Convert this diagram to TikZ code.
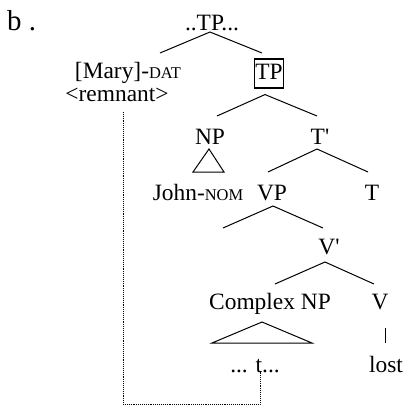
\documentclass[tikz,border=0pt]{standalone}
\usepackage{fontspec}
\setmainfont{Liberation Serif}
\usepackage{tikz}
\usetikzlibrary{calc}
\newcommand{\smc}[1]{{\fontsize{16.5}{18}\selectfont #1}}
\tikzset{
  lbl/.style={anchor=base,inner sep=0pt,font=\fontsize{23.5}{26}\selectfont},
  boxed/.style={lbl,draw,line width=1.1bp,text height=15bp,text depth=4bp,inner xsep=1bp,inner ysep=5bp},
  branch/.style={line width=1bp},
  trace/.style={densely dotted,line width=0.9bp}
}
\begin{document}
\begin{tikzpicture}[x=1bp,y=1bp]
\useasboundingbox (0,0) rectangle (406,-407);
\node[lbl,anchor=base west,font=\fontsize{29}{32}\selectfont] (ex) at (7,-30) {b .};
\node[lbl] (top) at (212,-30) {..TP...};
\node[lbl] (mary) at (128,-78) {[Mary]-\smc{DAT}};
\node[lbl] (remnant) at (117,-101) {<remnant>};
\node[boxed] (tp) at (269,-79) {TP};
\node[lbl] (np) at (210,-144) {NP};
\node[lbl] (tbar) at (320,-144) {T\textquotesingle};
\node[lbl] (john) at (198,-200) {John-\smc{NOM}};
\node[lbl] (vp) at (272,-200) {VP};
\node[lbl] (t) at (372,-200) {T};
\node[lbl] (vbar) at (329,-254) {V\textquotesingle};
\node[lbl] (cnp) at (270,-309) {Complex NP};
\node[lbl] (v) at (380,-309) {V};
\node[lbl] (trc) at (255,-372) {... t...};
\node[lbl] (lost) at (386,-372) {lost};
\coordinate (spec) at ($(vp.base)+(-49,-28)$);

\draw[branch] ($(mary.base)+(32,25)$) -- ($(top.base)+(-2,-2)$) -- ($(tp.base)+(-7,26)$);
\draw[branch] ($(np.base)+(7,28)$) -- ($(tp.south)+(-4,-6)$) -- ($(tbar.base)+(-3,28)$);
\draw[branch] ($(np.base)+(-17,-28)$) -- ($(np.base)+(-1,-5)$) -- ($(np.base)+(14,-28)$) -- cycle;
\draw[branch] ($(vp.base)+(-4,28)$) -- ($(tbar.base)+(-3,-5)$) -- ($(t.base)+(-4,28)$);
\draw[branch] (spec) -- ($(vp.base)+(1,-6)$) -- ($(vbar.base)+(-6,26)$);
\draw[branch] ($(cnp.base)+(5,25)$) -- ($(vbar.base)+(-4,-8)$) -- ($(v.base)+(-6,25)$);
\draw[branch] ($(cnp.base)+(-58,-34)$) -- ($(cnp.base)+(-8,-13)$) -- ($(cnp.base)+(42,-34)$) -- cycle;
\draw[branch] ($(v.base)+(5,-19)$) -- ($(lost.base)+(-1,29)$);
\draw[trace] ($(remnant.base)+(6,-11)$) |- ($(trc.base)+(5,-32)$) -- ($(trc.base)+(5,0)$);
\end{tikzpicture}
\end{document}
